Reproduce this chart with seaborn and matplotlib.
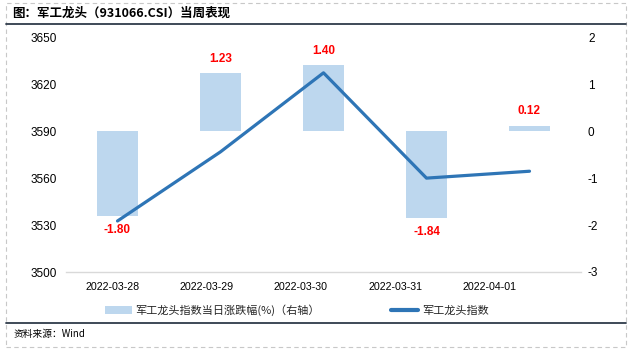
import matplotlib
matplotlib.use("Agg")
import matplotlib.pyplot as plt
import seaborn as sns
import numpy as np
from matplotlib.patches import Patch, Rectangle
from matplotlib.lines import Line2D

# ---- data ----
dates = ["2022-03-28", "2022-03-29", "2022-03-30", "2022-03-31", "2022-04-01"]
pct_change = [-1.80, 1.23, 1.40, -1.84, 0.12]
index_close = [3532.6, 3576.8, 3627.3, 3560.0, 3564.4]
left_ticks = [3500, 3530, 3560, 3590, 3620, 3650]
right_ticks = [-3, -2, -1, 0, 1, 2]
title_text = "图：军工龙头（931066.CSI）当周表现"
source_text = "资料来源：Wind"
bar_legend = "军工龙头指数当日涨跌幅(%)（右轴）"
line_legend = "军工龙头指数"

sns.set_style("white")
plt.rcParams['font.family'] = ['Liberation Sans', 'Noto Sans CJK SC', 'DejaVu Sans']
CJK = ['Noto Sans CJK SC', 'DejaVu Sans']

W, H = 631, 349
fig = plt.figure(figsize=(W / 100, H / 100), dpi=100)
ax = fig.add_axes([66 / W, 1 - 272 / H, (581 - 66) / W, (272 - 37.3) / H])
ax2 = ax.twinx()

bar_color = "#BDD7EE"
line_color = "#2E75B6"

sns.barplot(x=dates, y=pct_change, ax=ax2, color=bar_color, width=0.4,
            saturation=1, edgecolor="none", linewidth=0)
sns.pointplot(x=dates, y=index_close, ax=ax, color=line_color, markers="",
              linewidth=2.3)

ax.set_zorder(ax2.get_zorder() + 1)
ax.patch.set_visible(False)

ax.set_xlim(-0.5, len(dates) - 0.5)
ax.set_ylim(left_ticks[0], left_ticks[-1])
ax2.set_ylim(right_ticks[0], right_ticks[-1])
ax.set_yticks(left_ticks)
ax2.set_yticks(right_ticks)
ax.set_yticklabels([str(t) for t in left_ticks])
ax2.set_yticklabels([str(t) for t in right_ticks])

# category labels (Excel-like placement) and boundary ticks
pos = np.arange(len(dates))
ax.set_xticks(pos * 0.915 - 0.05)
ax.set_xticklabels(dates)
ax.set_xticks(np.arange(len(dates) + 1) - 0.5, minor=True)
ax.tick_params(axis='x', which='major', length=0, pad=7, labelsize=7.7, colors='black')
ax.tick_params(axis='x', which='minor', length=4, direction='in', color='#D9D9D9', width=1)
ax.tick_params(axis='y', length=0, pad=6.5, labelsize=8.5, colors='black')
ax2.tick_params(axis='y', length=0, pad=5, labelsize=8.5, colors='black')
ax.set_xlabel("")
ax.set_ylabel("")
ax2.set_ylabel("")

for a in (ax, ax2):
    for s in ("top", "left", "right"):
        a.spines[s].set_visible(False)
    a.spines["bottom"].set_color("#D9D9D9")
    a.spines["bottom"].set_linewidth(1)
ax2.spines["bottom"].set_visible(False)
ax.grid(False)
ax2.grid(False)

# bar value labels
for cont in ax2.containers:
    ax2.bar_label(cont, labels=[f"{v:.2f}" for v in pct_change], padding=6,
                  color="#FF0000", fontsize=8.5, fontweight="bold")

# legend
handles = [Patch(facecolor=bar_color, edgecolor="none"),
           Line2D([0], [0], color=line_color, lw=3)]
fig.legend(handles, [bar_legend, line_legend], ncol=2, loc="center left",
           bbox_to_anchor=(105 / W, 1 - 310 / H), frameon=False,
           handlelength=2.45, handletextpad=0.3, columnspacing=6.4,
           borderpad=0, borderaxespad=0, prop={'family': CJK, 'size': 8})

# title, footer, frame
fig.text(12 / W, 1 - 13.5 / H, title_text, ha="left", va="center",
         fontsize=9, fontweight="bold", family=CJK, color="black")
fig.text(14 / W, 1 - 334 / H, source_text, ha="left", va="center",
         fontsize=7, family=CJK, color="black")
fig.add_artist(Line2D([5.5 / W, 626 / W], [1 - 24.3 / H, 1 - 24.3 / H],
                      color="#2F3B4A", lw=1.3))
fig.add_artist(Line2D([5.5 / W, 626 / W], [1 - 323 / H, 1 - 323 / H],
                      color="#2F3B4A", lw=1.3))
fig.add_artist(Rectangle((5.5 / W, 1 - 347 / H), (625.7 - 5.5) / W, (347 - 2.7) / H,
                         transform=fig.transFigure, fill=False,
                         edgecolor="#C8C8C8", lw=0.8, linestyle=(0, (4, 3))))

fig.savefig("out.png", dpi=100)
